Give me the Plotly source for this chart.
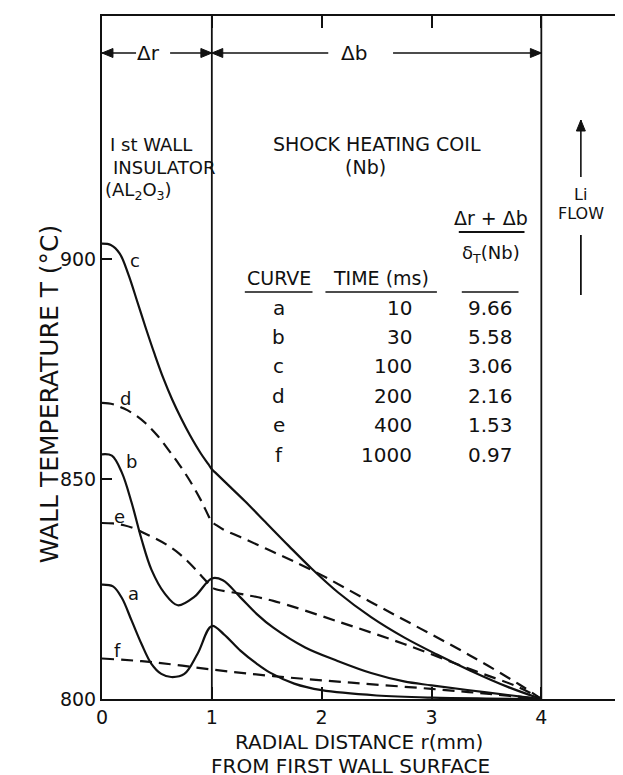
import plotly.graph_objects as go

# ---------------- data ----------------
r_a = [0, 0.1, 0.18, 0.27, 0.36, 0.45, 0.54, 0.63, 0.75, 0.87, 1.0, 1.11, 1.26, 1.41, 1.53, 1.75, 2.0, 2.5, 3.0, 3.5, 4.0]
T_a = [826, 825.6, 823, 817.8, 812.5, 808, 805.7, 805, 805.7, 810.3, 816.6, 814.7, 811, 808, 806, 803.5, 802, 800.8, 800.3, 800.1, 800]

r_b = [0, 0.09, 0.18, 0.27, 0.36, 0.45, 0.57, 0.69, 0.84, 1.0, 1.1, 1.26, 1.41, 1.56, 1.85, 2.15, 2.45, 2.75, 3.0, 3.5, 4.0]
T_b = [855.6, 855.3, 851.5, 844.6, 836.3, 829.4, 824, 821.3, 823.2, 827.4, 827, 823.1, 819.3, 816.2, 811.7, 808.6, 805.9, 804, 803.1, 801.5, 800]

r_c = [0, 0.08, 0.16, 0.24, 0.32, 0.40, 0.48, 0.56, 0.64, 0.72, 0.80, 0.90, 0.97, 1.0, 1.03, 1.15, 1.3, 1.5, 1.7, 1.91, 2.15, 2.45, 2.75, 3.05, 3.35, 3.7, 4.0]
T_c = [903.5, 903.2, 901.3, 896.5, 890.4, 884.2, 878.3, 872.8, 868, 863.8, 860, 855.8, 853.3, 852.2, 851.5, 848.6, 845.0, 839.9, 834.8, 829.6, 824.2, 818.6, 814.0, 810.1, 806.5, 802.7, 800]

r_d = [0, 0.1, 0.2, 0.3, 0.4, 0.5, 0.6, 0.7, 0.8, 0.9, 0.97, 1.0, 1.03, 1.1, 1.26, 1.56, 1.91, 2.45, 2.9, 3.35, 3.8, 4.0]
T_d = [867.3, 867.0, 866.0, 864.6, 862.6, 860.0, 856.8, 853.4, 849.6, 845.2, 841.6, 840.2, 839.7, 838.6, 836.8, 833.4, 829.3, 822.0, 816.0, 809.9, 803.3, 800]

r_e = [0, 0.1, 0.2, 0.3, 0.4, 0.5, 0.6, 0.7, 0.8, 0.9, 0.97, 1.0, 1.03, 1.26, 1.56, 2.15, 2.75, 3.35, 3.8, 4.0]
T_e = [840, 839.9, 839.5, 838.7, 837.5, 836.3, 834.9, 833.1, 830.8, 828.1, 826.2, 825.4, 825.0, 823.9, 822.3, 817.6, 812.5, 806.8, 802.6, 800]

r_f = [0, 0.36, 0.66, 1.0, 1.56, 2.27, 3.0, 3.5, 4.0]
T_f = [809.2, 808.6, 807.8, 806.7, 805.2, 803.7, 802.3, 801.2, 800]

curve_ids = ["a", "b", "c", "d", "e", "f"]
times_ms = ["10", "30", "100", "200", "400", "1000"]
ratios = ["9.66", "5.58", "3.06", "2.16", "1.53", "0.97"]

x_ticks = [0, 1, 2, 3, 4]
y_ticks = [800, 850, 900]

# ---------------- layout helpers (pixel -> axis units) ----------------
W, H = 623, 775
ML, MR, MT, MB = 93.5, 2, 8, 84
PX_MM = (W - ML - MR) / 4.78
PX_C = 4.4


def rx(px):
    return (px - ML) / PX_MM


def ty(py):
    return 800 + (H - MB - py) / PX_C


FONT = "DejaVu Sans"
BLACK = "#111111"

fig = go.Figure()

solid = dict(color=BLACK, width=2.2)
dashed = dict(color=BLACK, width=2.2, dash="12px,7px")

for r, T, ln in [(r_a, T_a, solid), (r_b, T_b, solid), (r_c, T_c, solid),
                 (r_d, T_d, dashed), (r_e, T_e, dashed), (r_f, T_f, dashed)]:
    fig.add_trace(go.Scatter(x=r, y=T, mode="lines", line=dict(shape="spline", smoothing=1.0, **ln),
                             showlegend=False, hoverinfo="skip"))

shapes = []
# region boundaries at r = 1 and r = 4
for xv in (1, 4):
    shapes.append(dict(type="line", xref="x", yref="paper", x0=xv, x1=xv, y0=0, y1=1,
                       line=dict(color=BLACK, width=1.8)))

annots = []


def txt(x, y, s, size=19, xanchor="center", **kw):
    annots.append(dict(x=x, y=y, xref="x", yref="y", text=s, showarrow=False,
                       xanchor=xanchor, yanchor="middle",
                       font=dict(family=FONT, size=size, color=BLACK), **kw))


def seg(x0, y0, x1, y1, w=1.6):
    shapes.append(dict(type="line", xref="x", yref="y", x0=x0, x1=x1, y0=y0, y1=y1,
                       line=dict(color=BLACK, width=w)))


def head(x, y, ux, uy, L=11, hw=4.5):
    # filled arrowhead with tip at (x, y); (ux, uy) = pixel direction of travel (y down)
    bx, by = -ux * L, -uy * L
    nx, ny = -uy * hw, ux * hw
    p1 = (x + (bx + nx) / PX_MM, y - (by + ny) / PX_C)
    p2 = (x + (bx - nx) / PX_MM, y - (by - ny) / PX_C)
    shapes.append(dict(type="path", xref="x", yref="y",
                       path="M %f,%f L %f,%f L %f,%f Z" % (x, y, p1[0], p1[1], p2[0], p2[1]),
                       fillcolor=BLACK, line=dict(color=BLACK, width=1)))


def arrow(x_head, y_head, x_tail, y_tail):
    seg(x_tail, y_tail, x_head, y_head)
    dxp = (x_head - x_tail) * PX_MM
    dyp = -(y_head - y_tail) * PX_C
    n = (dxp ** 2 + dyp ** 2) ** 0.5
    head(x_head, y_head, dxp / n, dyp / n)


# Δr / Δb dimension arrows
y_dim = ty(45)
txt(0.42, y_dim, "Δr", size=20)
arrow(0.0, y_dim, 0.31, y_dim)
arrow(1.0, y_dim, 0.62, y_dim)
txt(2.29, y_dim, "Δb", size=20)
arrow(1.0, y_dim, 2.06, y_dim)
arrow(4.0, y_dim, 2.65, y_dim)

# region labels
txt(0.45, ty(136), "I st WALL", size=18)
txt(0.56, ty(159), "INSULATOR", size=18)
txt(0.33, ty(183), "(AL<sub>2</sub>O<sub>3</sub>)", size=18)
txt(2.50, ty(136), "SHOCK HEATING COIL", size=19)
txt(2.40, ty(159), "(Nb)", size=19)

# Li flow
txt(4.36, ty(186), "Li", size=16)
txt(4.36, ty(205), "FLOW", size=16)
arrow(4.36, ty(112), 4.36, ty(169))
seg(4.36, ty(227), 4.36, ty(287), w=1.8)

# table header
x_curve, x_time_hdr, x_time, x_ratio = rx(271), rx(374), rx(407), rx(484)
y_head = ty(270)
txt(x_curve, y_head, "CURVE", size=19)
txt(x_time_hdr, y_head, "TIME (ms)", size=19)
txt(x_ratio, ty(210), "Δr + Δb", size=19)
txt(x_ratio, ty(246), "δ<sub>T</sub>(Nb)", size=18)
seg(rx(452), ty(224), rx(518), ty(224), w=1.8)
for a, b in [(237, 305), (318, 430), (455, 512)]:
    seg(rx(a), ty(284), rx(b), ty(284))

row_y = [300, 329, 358, 388, 417, 447]
for cid, tm, rt, py in zip(curve_ids, times_ms, ratios, row_y):
    txt(x_curve, ty(py), cid, size=20)
    txt(x_time, ty(py), tm, size=20, xanchor="right")
    txt(x_ratio, ty(py), rt, size=20)

# curve labels
for s, x, y in [("c", 0.24, ty(252)), ("d", 0.15, ty(390)), ("b", 0.20, ty(453)),
                ("e", 0.09, ty(508)), ("a", 0.22, ty(585)), ("f", 0.09, ty(642))]:
    txt(x, y, s, size=18, xanchor="left")

# axis titles
annots.append(dict(x=(24 - ML) / (W - ML - MR), y=ty(386), xref="paper", yref="y",
                   text="WALL TEMPERATURE T (°C)", textangle=-90, showarrow=False,
                   font=dict(family=FONT, size=25, color=BLACK)))
annots.append(dict(x=rx(352), y=(H - MB - 734) / (H - MT - MB), xref="x", yref="paper",
                   text="RADIAL DISTANCE r(mm)", showarrow=False, yanchor="middle",
                   font=dict(family=FONT, size=20, color=BLACK)))
annots.append(dict(x=rx(343), y=(H - MB - 758) / (H - MT - MB), xref="x", yref="paper",
                   text="FROM FIRST WALL SURFACE", showarrow=False, yanchor="middle",
                   font=dict(family=FONT, size=20, color=BLACK)))

fig.update_layout(
    width=W, height=H,
    margin=dict(l=ML, r=MR, t=MT, b=MB),
    paper_bgcolor="white", plot_bgcolor="white",
    shapes=shapes, annotations=annots,
    xaxis=dict(range=[0, 4.78], tickvals=x_ticks, ticktext=[str(v) for v in x_ticks],
               ticks="inside", ticklen=12, tickwidth=1.6, tickcolor=BLACK,
               showline=True, linecolor=BLACK, linewidth=2, mirror="ticks",
               showgrid=False, zeroline=False,
               tickfont=dict(family=FONT, size=19, color=BLACK)),
    yaxis=dict(range=[800, ty(MT)], tickvals=y_ticks, ticktext=[str(v) for v in y_ticks],
               ticks="inside", ticklen=10, tickwidth=1.6, tickcolor=BLACK,
               showline=True, linecolor=BLACK, linewidth=2, mirror="ticks",
               showgrid=False, zeroline=False,
               tickfont=dict(family=FONT, size=19, color=BLACK)),
)

fig.write_html("out.html")
